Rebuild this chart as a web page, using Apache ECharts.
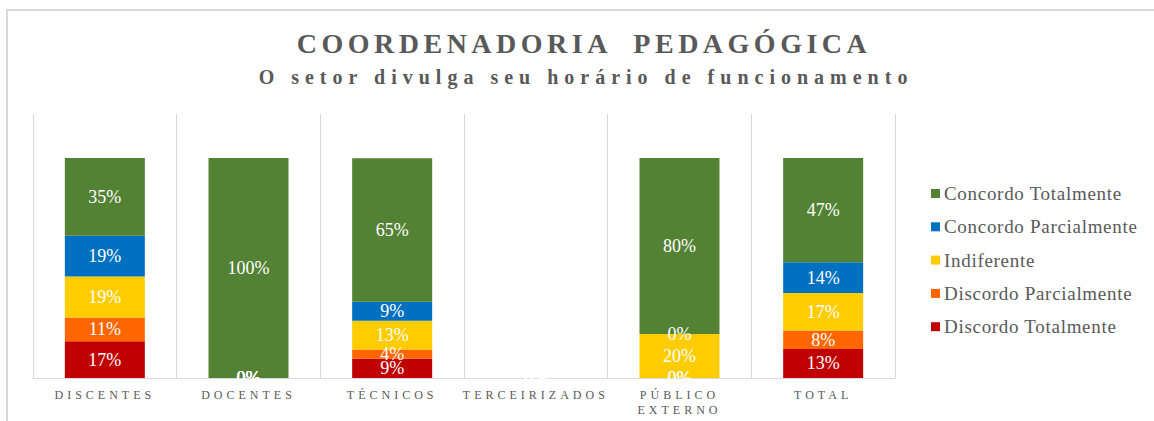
<!DOCTYPE html>
<html>
<head>
<meta charset="utf-8">
<title>Coordenadoria Pedagógica</title>
<script src="https://cdn.jsdelivr.net/npm/echarts@6/dist/echarts.min.js"></script>
<style>
  html, body { margin: 0; padding: 0; background: #fff; }
  #chart { width: 1154px; height: 421px; }
  /* espaçamento entre letras do título, legenda e eixo (renderer svg) */
  #chart text[style*="28px"] { letter-spacing: 4.5px; }
  #chart text[style*="20px"] { letter-spacing: 6px; }
  #chart text[style*="19px"] { letter-spacing: 0.7px; }
  #chart text[style*="12px"] { letter-spacing: 4px; }
</style>
</head>
<body>
<div id="chart"></div>
<script>
// categorias
var categorias = ["DISCENTES", "DOCENTES", "TÉCNICOS", "TERCEIRIZADOS", "PÚBLICO\nEXTERNO", "TOTAL"];

// valores (%) por resposta
var discordoTotalmente = [16.7, 0, 8.7, 0, 0, 13.2];
var discordoParcialmente = [10.8, 0, 4.3, 0, 0, 8.4];
var indiferente = [18.6, 0, 13.0, 0, 20, 17.0];
var concordoParcialmente = [18.6, 0, 8.7, 0, 0, 14.0];
var concordoTotalmente = [35.3, 100, 65.2, 0, 80, 47.4];

var titulo = "COORDENADORIA  PEDAGÓGICA";
var subtitulo = "O setor divulga seu horário de funcionamento";

var chart = echarts.init(document.getElementById("chart"), null, { renderer: "svg" });

var fonte = "Liberation Serif";
var cinza = "#595959";

function serie(nome, dados, cor) {
  return {
    name: nome,
    type: "bar",
    stack: "total",
    barWidth: 80,
    data: dados,
    itemStyle: { color: cor },
    label: {
      show: true,
      position: "inside",
      color: "#fff",
      fontFamily: fonte,
      fontSize: 18,
      formatter: function (p) {
        return Math.round(p.value) + "%";
      },
    },
  };
}

var option = {
  animation: false,
  backgroundColor: "#fff",
  title: [
    {
      text: titulo,
      left: 584,
      top: 29,
      padding: 0,
      textAlign: "center",
      textStyle: { color: cinza, fontFamily: fonte, fontSize: 28, fontWeight: "bold" },
    },
    {
      text: subtitulo,
      left: 586,
      top: 67,
      padding: 0,
      textAlign: "center",
      textStyle: { color: cinza, fontFamily: fonte, fontSize: 20, fontWeight: "bold" },
    },
  ],
  legend: {
    orient: "vertical",
    left: 931,
    top: 184,
    itemWidth: 9,
    itemHeight: 9,
    itemGap: 14.3,
    icon: "rect",
    padding: 0,
    data: ["Concordo Totalmente", "Concordo Parcialmente", "Indiferente", "Discordo Parcialmente", "Discordo Totalmente"],
    textStyle: { color: cinza, fontFamily: fonte, fontSize: 19, padding: [0, 0, 0, -1], lineHeight: 18 },
  },
  grid: {
    left: 33,
    right: 259,
    top: 114,
    bottom: 43,
    containLabel: false,
  },
  xAxis: {
    type: "category",
    data: categorias,
    axisTick: { show: false },
    axisLine: { lineStyle: { color: "#D9D9D9", width: 1 } },
    splitLine: { show: true, lineStyle: { color: "#D9D9D9", width: 1 } },
    axisLabel: {
      interval: 0,
      color: cinza,
      fontFamily: fonte,
      fontSize: 12,
      lineHeight: 15,
      margin: 9,
    },
  },
  yAxis: {
    type: "value",
    min: 0,
    max: 120,
    show: false,
    splitLine: { show: false },
  },
  graphic: [
    {
      type: "rect",
      shape: { x: 7, y: 10, width: 1300, height: 600 },
      style: { fill: null, stroke: "#D9D9D9", lineWidth: 2 },
      silent: true,
    },
  ],
  series: [
    serie("Discordo Totalmente", discordoTotalmente, "#C00000"),
    serie("Discordo Parcialmente", discordoParcialmente, "#FF6600"),
    serie("Indiferente", indiferente, "#FFCC00"),
    serie("Concordo Parcialmente", concordoParcialmente, "#0070C0"),
    serie("Concordo Totalmente", concordoTotalmente, "#548235"),
  ],
};

chart.setOption(option);
</script>
</body>
</html>
